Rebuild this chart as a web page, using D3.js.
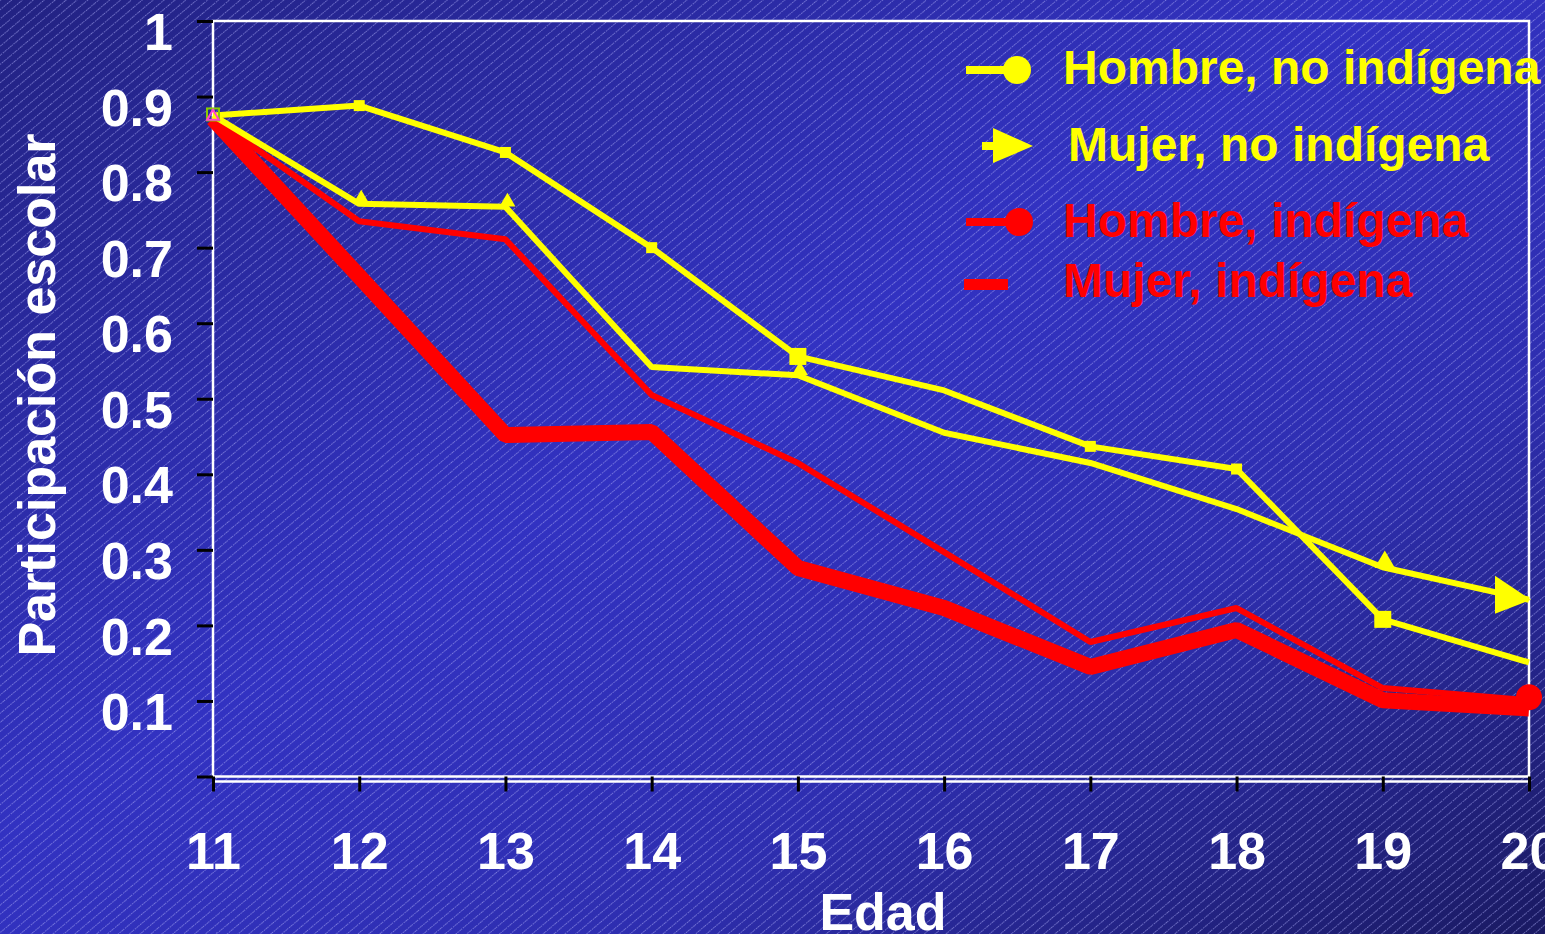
<!DOCTYPE html>
<html>
<head>
<meta charset="utf-8">
<script src="https://cdnjs.cloudflare.com/ajax/libs/d3/7.8.5/d3.min.js"></script>
<style>
  body { margin: 0; background: #2a2aa8; overflow: hidden; }
  svg text { font-family: "Liberation Sans", Arial, sans-serif; font-weight: bold; }
</style>
</head>
<body>
<div id="chart"></div>
<script>
// data
var ages = [11, 12, 13, 14, 15, 16, 17, 18, 19, 20];
var hombreNoInd = [0.875, 0.888, 0.826, 0.700, 0.556, 0.511, 0.437, 0.407, 0.208, 0.151];
var mujerNoInd  = [0.875, 0.758, 0.754, 0.542, 0.531, 0.455, 0.415, 0.354, 0.277, 0.234];
var hombreInd   = [0.871, 0.735, 0.711, 0.505, 0.415, 0.297, 0.178, 0.223, 0.117, 0.101];
var mujerInd    = [0.871, 0.662, 0.452, 0.456, 0.276, 0.223, 0.145, 0.194, 0.101, 0.090];
var seriesNames = ["Hombre, no indígena", "Mujer, no indígena", "Hombre, indígena", "Mujer, indígena"];
var yTickValues = [0.1, 0.2, 0.3, 0.4, 0.5, 0.6, 0.7, 0.8, 0.9, 1];
var yTickLabels = ["0.1", "0.2", "0.3", "0.4", "0.5", "0.6", "0.7", "0.8", "0.9", "1"];

var W = 1545, H = 934;
var margin = {left: 213, right: 1529, top: 21, bottom: 776.5};

var svg = d3.select("#chart").append("svg")
    .attr("width", W)
    .attr("height", H);

var defs = svg.append("defs");

// background gradient + diagonal hatch
var grad = defs.append("linearGradient")
    .attr("id", "bg")
    .attr("x1", "0%").attr("y1", "0%")
    .attr("x2", "100%").attr("y2", "100%");
grad.append("stop").attr("offset", "0%").attr("stop-color", "#222282");
grad.append("stop").attr("offset", "45%").attr("stop-color", "#3232c2");
grad.append("stop").attr("offset", "70%").attr("stop-color", "#2e2eb0");
grad.append("stop").attr("offset", "100%").attr("stop-color", "#1a1a62");

var hatch = defs.append("pattern")
    .attr("id", "hatch")
    .attr("patternUnits", "userSpaceOnUse")
    .attr("width", 7).attr("height", 7)
    .attr("patternTransform", "rotate(50)");
hatch.append("line")
    .attr("x1", 0.5).attr("y1", 0).attr("x2", 0.5).attr("y2", 7)
    .attr("stroke", "#a8a8f4")
    .attr("stroke-opacity", 0.6)
    .attr("stroke-width", 1)
    .attr("stroke-dasharray", "1.5,1");

svg.append("rect").attr("width", W).attr("height", H).attr("fill", "url(#bg)");
svg.append("rect").attr("width", W).attr("height", H).attr("fill", "url(#hatch)");

/* scales */
var x = d3.scaleLinear().domain([11, 20]).range([margin.left, margin.right]);
var y = d3.scaleLinear().domain([0, 1]).range([margin.bottom, margin.top]);

// plot frame
svg.append("rect")
    .attr("x", x(11)).attr("y", y(1))
    .attr("width", x(20) - x(11)).attr("height", y(0) - y(1))
    .attr("fill", "none")
    .attr("stroke", "#ffffff")
    .attr("stroke-width", 2.5);
svg.append("line")
    .attr("x1", x(11)).attr("x2", x(20))
    .attr("y1", y(0) + 5).attr("y2", y(0) + 5)
    .attr("stroke", "#ffffff").attr("stroke-width", 2.5);

// y axis (black ticks, white labels)
var yAxis = d3.axisLeft(y)
    .tickValues([0].concat(yTickValues))
    .tickSize(16)
    .tickFormat(function(d) { var i = yTickValues.indexOf(d); return i < 0 ? "" : yTickLabels[i]; });
var gy = svg.append("g")
    .attr("transform", "translate(" + margin.left + ",0)")
    .call(yAxis);
gy.select(".domain").remove();
gy.selectAll(".tick line").attr("stroke", "#000").attr("stroke-width", 3);
gy.selectAll(".tick text")
    .attr("x", -40)
    .attr("y", 12)
    .attr("fill", "#ffffff")
    .style("font-size", "52px");

// x axis
var xAxis = d3.axisBottom(x).tickValues(ages).tickSize(15).tickFormat(d3.format("d"));
var gx = svg.append("g")
    .attr("transform", "translate(0," + margin.bottom + ")")
    .call(xAxis);
gx.select(".domain").remove();
gx.selectAll(".tick line").attr("stroke", "#000").attr("stroke-width", 3);
gx.selectAll(".tick text")
    .attr("y", 74)
    .attr("dy", "0.35em")
    .attr("fill", "#ffffff")
    .style("font-size", "52px");

// axis titles
svg.append("text")
    .attr("x", 883).attr("y", 930)
    .attr("text-anchor", "middle")
    .attr("fill", "#ffffff")
    .style("font-size", "52px")
    .text("Edad");
svg.append("text")
    .attr("transform", "translate(55,395) rotate(-90)")
    .attr("text-anchor", "middle")
    .attr("fill", "#ffffff")
    .style("font-size", "52px")
    .text("Participación escolar");

/* lines */
var line = d3.line()
    .x(function(d, i) { return x(ages[i]); })
    .y(function(d) { return y(d); });

svg.append("path")
    .attr("d", line(mujerInd))
    .attr("fill", "none").attr("stroke", "#ff0000")
    .attr("stroke-width", 16).attr("stroke-linejoin", "bevel");

svg.append("path")
    .attr("d", line(hombreInd))
    .attr("fill", "none").attr("stroke", "#ff0000")
    .attr("stroke-width", 6).attr("stroke-linejoin", "bevel");

svg.append("path")
    .attr("d", line(mujerNoInd))
    .attr("fill", "none").attr("stroke", "#ffff00")
    .attr("stroke-width", 6).attr("stroke-linejoin", "bevel");

svg.append("path")
    .attr("d", line(hombreNoInd))
    .attr("fill", "none").attr("stroke", "#ffff00")
    .attr("stroke-width", 6).attr("stroke-linejoin", "bevel");

// markers on the top yellow line (none at 11 and 16)
var bigSq = [4, 8];
ages.forEach(function(a, idx) {
    if (idx === 0 || idx === 5 || idx === 9) return;
    var s = bigSq.indexOf(idx) >= 0 ? 17 : 11;
    svg.append("rect")
        .attr("x", x(a) - s / 2)
        .attr("y", y(hombreNoInd[idx]) - s / 2)
        .attr("width", s).attr("height", s)
        .attr("fill", "#ffff00");
});

var triSym = d3.symbol().type(d3.symbolTriangle);
[1, 2, 4, 8].forEach(function(idx) {
    svg.append("path")
        .attr("d", triSym.size(idx === 8 ? 180 : 110)())
        .attr("transform", "translate(" + (x(ages[idx]) + 2) + "," + (y(mujerNoInd[idx]) - 5) + ")")
        .attr("fill", "#ffff00");
});

// big arrow at age 20
var ax = x(20), ay = y(mujerNoInd[9]);
svg.append("path")
    .attr("d", "M" + (ax - 34) + "," + (ay - 24) + "L" + (ax + 2) + "," + ay + "L" + (ax - 34) + "," + (ay + 14) + "Z")
    .attr("fill", "#ffff00");

// big red dot at age 20
svg.append("circle")
    .attr("cx", x(20)).attr("cy", y(hombreInd[9]) - 3)
    .attr("r", 13)
    .attr("fill", "#ff0000");

// first-point markers
svg.append("rect")
    .attr("x", x(11) - 6).attr("y", y(hombreNoInd[0]) - 7)
    .attr("width", 12).attr("height", 12)
    .attr("fill", "none").attr("stroke", "#88cc00").attr("stroke-width", 2);
svg.append("path")
    .attr("d", d3.symbol().type(d3.symbolTriangle).size(60)())
    .attr("transform", "translate(" + x(11) + "," + (y(hombreNoInd[0]) + 1) + ")")
    .attr("fill", "none").attr("stroke", "#ff44cc").attr("stroke-width", 2);

/* legend */
var legColors = ["#ffff00", "#ffff00", "#ff0000", "#ff0000"];
var legBase = [84, 161, 237, 297];
var legX = [1063, 1068, 1063, 1063];
var leg = svg.append("g");
leg.selectAll("text")
    .data(seriesNames)
    .enter().append("text")
    .attr("x", function(d, i) { return legX[i]; })
    .attr("y", function(d, i) { return legBase[i]; })
    .attr("fill", function(d, i) { return legColors[i]; })
    .style("font-size", "48px")
    .text(function(d) { return d; });

// legend symbols
leg.append("line").attr("x1", 966).attr("x2", 1008).attr("y1", 70).attr("y2", 70)
    .attr("stroke", legColors[0]).attr("stroke-width", 8);
leg.append("circle").attr("cx", 1017).attr("cy", 70).attr("r", 14).attr("fill", legColors[0]);

leg.append("line").attr("x1", 982).attr("x2", 1000).attr("y1", 146).attr("y2", 146)
    .attr("stroke", legColors[1]).attr("stroke-width", 8);
leg.append("path").attr("d", "M993,128L1033,146L993,163Z").attr("fill", legColors[1]);

leg.append("line").attr("x1", 966).attr("x2", 1008).attr("y1", 222).attr("y2", 222)
    .attr("stroke", legColors[2]).attr("stroke-width", 8);
leg.append("circle").attr("cx", 1019).attr("cy", 222).attr("r", 14).attr("fill", legColors[2]);

leg.append("rect").attr("x", 964).attr("y", 279).attr("width", 44).attr("height", 11)
    .attr("fill", legColors[3]);
</script>
</body>
</html>
